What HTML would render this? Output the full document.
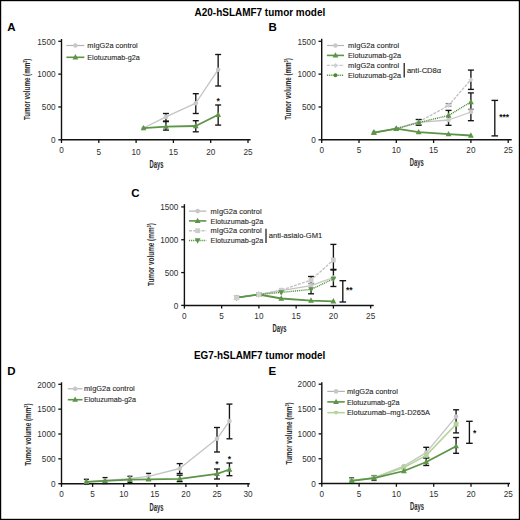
<!DOCTYPE html>
<html><head><meta charset="utf-8"><style>
html,body{margin:0;padding:0;background:#fff;}
svg{display:block;font-family:"Liberation Sans", sans-serif;}
</style></head><body>
<svg width="520" height="520" viewBox="0 0 520 520">
<rect x="0" y="0" width="520" height="520" fill="#fff"/>
<rect x="0.6" y="0.6" width="518.8" height="518.8" fill="none" stroke="#000" stroke-width="1.2"/>
<text x="259.9" y="15.6" font-size="10" text-anchor="middle" font-weight="bold" fill="#000" textLength="130.6" lengthAdjust="spacingAndGlyphs" >A20-hSLAMF7 tumor model</text>
<text x="259.6" y="358.9" font-size="10" text-anchor="middle" font-weight="bold" fill="#000" textLength="131.4" lengthAdjust="spacingAndGlyphs" >EG7-hSLAMF7 tumor model</text>
<text x="7.2" y="31.2" font-size="11.5" text-anchor="start" font-weight="bold" fill="#000" >A</text>
<text x="268.5" y="30.8" font-size="11.5" text-anchor="start" font-weight="bold" fill="#000" >B</text>
<text x="131.2" y="196.7" font-size="11.5" text-anchor="start" font-weight="bold" fill="#000" >C</text>
<text x="7.3" y="375.2" font-size="11.5" text-anchor="start" font-weight="bold" fill="#000" >D</text>
<text x="268.4" y="375.0" font-size="11.5" text-anchor="start" font-weight="bold" fill="#000" >E</text>
<line x1="61.5" y1="39.0" x2="61.5" y2="140.4" stroke="#111" stroke-width="1.4" />
<line x1="60.8" y1="139.8" x2="250.6" y2="139.8" stroke="#111" stroke-width="1.5" />
<line x1="58.3" y1="139.8" x2="61.5" y2="139.8" stroke="#111" stroke-width="1.3" />
<text x="55.5" y="143.0" font-size="8.2" text-anchor="end" font-weight="normal" fill="#303030" >0</text>
<line x1="58.3" y1="106.97" x2="61.5" y2="106.97" stroke="#111" stroke-width="1.3" />
<text x="55.5" y="110.17" font-size="8.2" text-anchor="end" font-weight="normal" fill="#303030" >500</text>
<line x1="58.3" y1="74.14" x2="61.5" y2="74.14" stroke="#111" stroke-width="1.3" />
<text x="55.5" y="77.34" font-size="8.2" text-anchor="end" font-weight="normal" fill="#303030" >1000</text>
<line x1="58.3" y1="41.31" x2="61.5" y2="41.31" stroke="#111" stroke-width="1.3" />
<text x="55.5" y="44.510000000000005" font-size="8.2" text-anchor="end" font-weight="normal" fill="#303030" >1500</text>
<line x1="61.5" y1="139.8" x2="61.5" y2="143.0" stroke="#111" stroke-width="1.3" />
<text x="61.5" y="153.0" font-size="8.2" text-anchor="middle" font-weight="normal" fill="#303030" >0</text>
<line x1="98.8" y1="139.8" x2="98.8" y2="143.0" stroke="#111" stroke-width="1.3" />
<text x="98.8" y="154.8" font-size="8.2" text-anchor="middle" font-weight="normal" fill="#303030" >5</text>
<line x1="136.1" y1="139.8" x2="136.1" y2="143.0" stroke="#111" stroke-width="1.3" />
<text x="136.1" y="154.8" font-size="8.2" text-anchor="middle" font-weight="normal" fill="#303030" >10</text>
<line x1="173.4" y1="139.8" x2="173.4" y2="143.0" stroke="#111" stroke-width="1.3" />
<text x="173.4" y="154.8" font-size="8.2" text-anchor="middle" font-weight="normal" fill="#303030" >15</text>
<line x1="210.7" y1="139.8" x2="210.7" y2="143.0" stroke="#111" stroke-width="1.3" />
<text x="210.7" y="154.8" font-size="8.2" text-anchor="middle" font-weight="normal" fill="#303030" >20</text>
<line x1="248.0" y1="139.8" x2="248.0" y2="143.0" stroke="#111" stroke-width="1.3" />
<text x="248.0" y="154.8" font-size="8.2" text-anchor="middle" font-weight="normal" fill="#303030" >25</text>
<text transform="translate(30.2,89.3) rotate(-90)" x="0" y="0" font-size="9" font-weight="bold" text-anchor="middle" fill="#2a2a2a" textLength="61.5" lengthAdjust="spacingAndGlyphs">Tumor volume (mm<tspan font-size="5.5" dy="-3">3</tspan><tspan dy="3">)</tspan></text>
<text x="156.5" y="167.8" font-size="10" text-anchor="middle" font-weight="bold" fill="#2a2a2a" textLength="14" lengthAdjust="spacingAndGlyphs" >Days</text>
<line x1="165.94" y1="113.5" x2="165.94" y2="121.1" stroke="#151515" stroke-width="1.35" />
<line x1="162.94" y1="113.5" x2="168.94" y2="113.5" stroke="#151515" stroke-width="1.35" />
<line x1="162.94" y1="121.1" x2="168.94" y2="121.1" stroke="#151515" stroke-width="1.35" />
<line x1="195.78" y1="93.7" x2="195.78" y2="113.5" stroke="#151515" stroke-width="1.35" />
<line x1="192.78" y1="93.7" x2="198.78" y2="93.7" stroke="#151515" stroke-width="1.35" />
<line x1="192.78" y1="113.5" x2="198.78" y2="113.5" stroke="#151515" stroke-width="1.35" />
<line x1="218.16" y1="54.5" x2="218.16" y2="86" stroke="#151515" stroke-width="1.35" />
<line x1="215.16" y1="54.5" x2="221.16" y2="54.5" stroke="#151515" stroke-width="1.35" />
<line x1="215.16" y1="86" x2="221.16" y2="86" stroke="#151515" stroke-width="1.35" />
<line x1="165.94" y1="121.6" x2="165.94" y2="130.1" stroke="#151515" stroke-width="1.35" />
<line x1="162.94" y1="121.6" x2="168.94" y2="121.6" stroke="#151515" stroke-width="1.35" />
<line x1="162.94" y1="130.1" x2="168.94" y2="130.1" stroke="#151515" stroke-width="1.35" />
<line x1="195.78" y1="120.7" x2="195.78" y2="131.8" stroke="#151515" stroke-width="1.35" />
<line x1="192.78" y1="120.7" x2="198.78" y2="120.7" stroke="#151515" stroke-width="1.35" />
<line x1="192.78" y1="131.8" x2="198.78" y2="131.8" stroke="#151515" stroke-width="1.35" />
<line x1="218.16" y1="105" x2="218.16" y2="125.1" stroke="#151515" stroke-width="1.35" />
<line x1="215.16" y1="105" x2="221.16" y2="105" stroke="#151515" stroke-width="1.35" />
<line x1="215.16" y1="125.1" x2="221.16" y2="125.1" stroke="#151515" stroke-width="1.35" />
<polyline points="143.56,128.0 165.94,116.9 195.78,103.2 218.16,69.7" fill="none" stroke="#c4c4c4" stroke-width="1.3" stroke-linejoin="round"/>
<circle cx="143.56" cy="128.0" r="2.3" fill="#c8c8c8"/>
<circle cx="165.94" cy="116.9" r="2.3" fill="#c8c8c8"/>
<circle cx="195.78" cy="103.2" r="2.3" fill="#c8c8c8"/>
<circle cx="218.16" cy="69.7" r="2.3" fill="#c8c8c8"/>
<polyline points="143.56,128.2 165.94,126.7 195.78,126.0 218.16,114.8" fill="none" stroke="#5c9448" stroke-width="1.8" stroke-linejoin="round"/>
<polygon points="143.56,124.96 146.46,130.35999999999999 140.66,130.35999999999999" fill="#5c9448"/>
<polygon points="165.94,123.46000000000001 168.84,128.86 163.04,128.86" fill="#5c9448"/>
<polygon points="195.78,122.76 198.68,128.16 192.88,128.16" fill="#5c9448"/>
<polygon points="218.16,111.56 221.06,116.96 215.26,116.96" fill="#5c9448"/>
<text x="216.50674999999998" y="104.31" font-size="8.5" font-weight="bold" fill="#111">*</text>
<line x1="66.4" y1="45.5" x2="84.4" y2="45.5" stroke="#b4b4b4" stroke-width="1.2"/>
<circle cx="75.4" cy="45.5" r="2.3" fill="#c8c8c8"/>
<text x="87.3" y="48.1" font-size="7.4" text-anchor="start" font-weight="normal" fill="#2a2a2a" stroke="#2a2a2a" stroke-width="0.12" textLength="50.4" lengthAdjust="spacingAndGlyphs" >mIgG2a control</text>
<line x1="66.4" y1="57.3" x2="84.4" y2="57.3" stroke="#5c9448" stroke-width="1.6"/>
<polygon points="75.4,54.059999999999995 78.30000000000001,59.459999999999994 72.5,59.459999999999994" fill="#5c9448"/>
<text x="87.3" y="59.9" font-size="7.4" text-anchor="start" font-weight="normal" fill="#2a2a2a" stroke="#2a2a2a" stroke-width="0.12" textLength="52.4" lengthAdjust="spacingAndGlyphs" >Elotuzumab-g2a</text>
<line x1="321.7" y1="38.7" x2="321.7" y2="140.4" stroke="#111" stroke-width="1.4" />
<line x1="321.0" y1="139.8" x2="511.7" y2="139.8" stroke="#111" stroke-width="1.5" />
<line x1="318.5" y1="139.8" x2="321.7" y2="139.8" stroke="#111" stroke-width="1.3" />
<text x="315.7" y="143.0" font-size="8.2" text-anchor="end" font-weight="normal" fill="#303030" >0</text>
<line x1="318.5" y1="106.97" x2="321.7" y2="106.97" stroke="#111" stroke-width="1.3" />
<text x="315.7" y="110.17" font-size="8.2" text-anchor="end" font-weight="normal" fill="#303030" >500</text>
<line x1="318.5" y1="74.14" x2="321.7" y2="74.14" stroke="#111" stroke-width="1.3" />
<text x="315.7" y="77.34" font-size="8.2" text-anchor="end" font-weight="normal" fill="#303030" >1000</text>
<line x1="318.5" y1="41.31" x2="321.7" y2="41.31" stroke="#111" stroke-width="1.3" />
<text x="315.7" y="44.510000000000005" font-size="8.2" text-anchor="end" font-weight="normal" fill="#303030" >1500</text>
<line x1="321.7" y1="139.8" x2="321.7" y2="143.0" stroke="#111" stroke-width="1.3" />
<text x="321.7" y="152.9" font-size="8.2" text-anchor="middle" font-weight="normal" fill="#303030" >0</text>
<line x1="359.0" y1="139.8" x2="359.0" y2="143.0" stroke="#111" stroke-width="1.3" />
<text x="359.0" y="152.9" font-size="8.2" text-anchor="middle" font-weight="normal" fill="#303030" >5</text>
<line x1="396.3" y1="139.8" x2="396.3" y2="143.0" stroke="#111" stroke-width="1.3" />
<text x="396.3" y="152.9" font-size="8.2" text-anchor="middle" font-weight="normal" fill="#303030" >10</text>
<line x1="433.6" y1="139.8" x2="433.6" y2="143.0" stroke="#111" stroke-width="1.3" />
<text x="433.6" y="152.9" font-size="8.2" text-anchor="middle" font-weight="normal" fill="#303030" >15</text>
<line x1="470.9" y1="139.8" x2="470.9" y2="143.0" stroke="#111" stroke-width="1.3" />
<text x="470.9" y="152.9" font-size="8.2" text-anchor="middle" font-weight="normal" fill="#303030" >20</text>
<line x1="508.2" y1="139.8" x2="508.2" y2="143.0" stroke="#111" stroke-width="1.3" />
<text x="508.2" y="152.9" font-size="8.2" text-anchor="middle" font-weight="normal" fill="#303030" >25</text>
<text transform="translate(290.8,89.0) rotate(-90)" x="0" y="0" font-size="9" font-weight="bold" text-anchor="middle" fill="#2a2a2a" textLength="61.5" lengthAdjust="spacingAndGlyphs">Tumor volume (mm<tspan font-size="5.5" dy="-3">3</tspan><tspan dy="3">)</tspan></text>
<text x="416.7" y="166.4" font-size="10" text-anchor="middle" font-weight="bold" fill="#2a2a2a" textLength="14" lengthAdjust="spacingAndGlyphs" >Days</text>
<line x1="418.68" y1="119.5" x2="418.68" y2="125.2" stroke="#151515" stroke-width="1.35" />
<line x1="415.68" y1="119.5" x2="421.68" y2="119.5" stroke="#151515" stroke-width="1.35" />
<line x1="415.68" y1="125.2" x2="421.68" y2="125.2" stroke="#151515" stroke-width="1.35" />
<line x1="448.52" y1="103.6" x2="448.52" y2="106.2" stroke="#8a8a8a" stroke-width="1.35" />
<line x1="445.52" y1="103.6" x2="451.52" y2="103.6" stroke="#8a8a8a" stroke-width="1.35" />
<line x1="445.52" y1="106.2" x2="451.52" y2="106.2" stroke="#8a8a8a" stroke-width="1.35" />
<line x1="448.52" y1="110.4" x2="448.52" y2="125.3" stroke="#151515" stroke-width="1.35" />
<line x1="445.52" y1="110.4" x2="451.52" y2="110.4" stroke="#151515" stroke-width="1.35" />
<line x1="445.52" y1="125.3" x2="451.52" y2="125.3" stroke="#151515" stroke-width="1.35" />
<line x1="470.9" y1="70.1" x2="470.9" y2="89.4" stroke="#151515" stroke-width="1.35" />
<line x1="467.9" y1="70.1" x2="473.9" y2="70.1" stroke="#151515" stroke-width="1.35" />
<line x1="467.9" y1="89.4" x2="473.9" y2="89.4" stroke="#151515" stroke-width="1.35" />
<line x1="470.9" y1="92.9" x2="470.9" y2="120.7" stroke="#151515" stroke-width="1.35" />
<line x1="467.9" y1="92.9" x2="473.9" y2="92.9" stroke="#151515" stroke-width="1.35" />
<line x1="467.9" y1="120.7" x2="473.9" y2="120.7" stroke="#151515" stroke-width="1.35" />
<line x1="470.9" y1="109.4" x2="470.9" y2="109.4" stroke="#9a9a9a" stroke-width="1.35" />
<line x1="467.9" y1="109.4" x2="473.9" y2="109.4" stroke="#9a9a9a" stroke-width="1.35" />
<line x1="467.9" y1="109.4" x2="473.9" y2="109.4" stroke="#9a9a9a" stroke-width="1.35" />
<polyline points="373.92,132.6 396.3,128.7 418.68,122.4 448.52,120.0 470.9,112.0" fill="none" stroke="#c4c4c4" stroke-width="1.3" stroke-linejoin="round"/>
<circle cx="373.92" cy="132.6" r="2.3" fill="#c8c8c8"/>
<circle cx="396.3" cy="128.7" r="2.3" fill="#c8c8c8"/>
<circle cx="418.68" cy="122.4" r="2.3" fill="#c8c8c8"/>
<circle cx="448.52" cy="120.0" r="2.3" fill="#c8c8c8"/>
<circle cx="470.9" cy="112.0" r="2.3" fill="#c8c8c8"/>
<polyline points="373.92,132.6 396.3,128.7 418.68,122.0 448.52,105.5 470.9,79.7" fill="none" stroke="#c4c4c4" stroke-width="1.4" stroke-linejoin="round" stroke-dasharray="3,1.2"/>
<polygon points="373.92,130.1 376.42,132.6 373.92,135.1 371.42,132.6" fill="#d0d0d8"/>
<polygon points="396.3,126.19999999999999 398.8,128.7 396.3,131.2 393.8,128.7" fill="#d0d0d8"/>
<polygon points="418.68,119.5 421.18,122.0 418.68,124.5 416.18,122.0" fill="#d0d0d8"/>
<polygon points="448.52,103.0 451.02,105.5 448.52,108.0 446.02,105.5" fill="#d0d0d8"/>
<polygon points="470.9,77.2 473.4,79.7 470.9,82.2 468.4,79.7" fill="#d0d0d8"/>
<polyline points="373.92,132.6 396.3,128.7 418.68,122.6 448.52,115.5 470.9,102.0" fill="none" stroke="#4a8a32" stroke-width="1.4" stroke-linejoin="round" stroke-dasharray="1,0.9"/>
<polygon points="373.92,129.35999999999999 376.82,134.76 371.02000000000004,134.76" fill="#5c9448"/>
<polygon points="396.3,125.46 399.2,130.85999999999999 393.40000000000003,130.85999999999999" fill="#5c9448"/>
<polygon points="418.68,119.36 421.58,124.75999999999999 415.78000000000003,124.75999999999999" fill="#5c9448"/>
<polygon points="448.52,112.26 451.41999999999996,117.66 445.62,117.66" fill="#5c9448"/>
<polygon points="470.9,98.76 473.79999999999995,104.16 468.0,104.16" fill="#5c9448"/>
<polyline points="373.92,132.6 396.3,128.7 418.68,132.2 448.52,134.2 470.9,135.5" fill="none" stroke="#5c9448" stroke-width="1.8" stroke-linejoin="round"/>
<polygon points="373.92,129.35999999999999 376.82,134.76 371.02000000000004,134.76" fill="#5c9448"/>
<polygon points="396.3,125.46 399.2,130.85999999999999 393.40000000000003,130.85999999999999" fill="#5c9448"/>
<polygon points="418.68,128.95999999999998 421.58,134.35999999999999 415.78000000000003,134.35999999999999" fill="#5c9448"/>
<polygon points="448.52,130.95999999999998 451.41999999999996,136.35999999999999 445.62,136.35999999999999" fill="#5c9448"/>
<polygon points="470.9,132.26 473.79999999999995,137.66 468.0,137.66" fill="#5c9448"/>
<line x1="494.8" y1="100.4" x2="494.8" y2="135.9" stroke="#151515" stroke-width="1.35" />
<line x1="491.5" y1="100.4" x2="498.1" y2="100.4" stroke="#151515" stroke-width="1.35" />
<line x1="491.5" y1="135.9" x2="498.1" y2="135.9" stroke="#151515" stroke-width="1.35" />
<text x="499.14675" y="119.50999999999999" font-size="8.5" font-weight="bold" fill="#111">***</text>
<line x1="326.9" y1="45.5" x2="344.0" y2="45.5" stroke="#b4b4b4" stroke-width="1.2"/>
<circle cx="335.45" cy="45.5" r="2.3" fill="#c8c8c8"/>
<text x="348.0" y="48.1" font-size="7.4" text-anchor="start" font-weight="normal" fill="#2a2a2a" stroke="#2a2a2a" stroke-width="0.12" textLength="51.2" lengthAdjust="spacingAndGlyphs" >mIgG2a control</text>
<line x1="326.9" y1="55.4" x2="344.0" y2="55.4" stroke="#5c9448" stroke-width="1.6"/>
<polygon points="335.45,52.16 338.34999999999997,57.56 332.55,57.56" fill="#5c9448"/>
<text x="348.0" y="58.0" font-size="7.4" text-anchor="start" font-weight="normal" fill="#2a2a2a" stroke="#2a2a2a" stroke-width="0.12" textLength="53.0" lengthAdjust="spacingAndGlyphs" >Elotuzumab-g2a</text>
<line x1="326.9" y1="65.4" x2="344.0" y2="65.4" stroke="#c4c4c4" stroke-width="1.4" stroke-dasharray="3,1.2"/>
<polygon points="335.45,62.900000000000006 337.95,65.4 335.45,67.9 332.95,65.4" fill="#d0d0d8"/>
<text x="348.0" y="68.0" font-size="7.4" text-anchor="start" font-weight="normal" fill="#2a2a2a" stroke="#2a2a2a" stroke-width="0.12" textLength="51.2" lengthAdjust="spacingAndGlyphs" >mIgG2a control</text>
<line x1="326.9" y1="75.2" x2="344.0" y2="75.2" stroke="#4a8a32" stroke-width="1.4" stroke-dasharray="1,0.9"/>
<circle cx="335.45" cy="75.2" r="1.9549999999999998" fill="#4a8a32"/>
<text x="348.0" y="77.8" font-size="7.4" text-anchor="start" font-weight="normal" fill="#2a2a2a" stroke="#2a2a2a" stroke-width="0.12" textLength="53.0" lengthAdjust="spacingAndGlyphs" >Elotuzumab-g2a</text>
<line x1="404.2" y1="63.1" x2="404.2" y2="77.4" stroke="#111" stroke-width="1.2" />
<text x="406.9" y="72.6" font-size="7.4" text-anchor="start" font-weight="normal" fill="#2a2a2a" stroke="#2a2a2a" stroke-width="0.12" textLength="34.3" lengthAdjust="spacingAndGlyphs" >anti-CD8α</text>
<line x1="184.4" y1="204.2" x2="184.4" y2="306.0" stroke="#111" stroke-width="1.4" />
<line x1="183.70000000000002" y1="305.4" x2="373.7" y2="305.4" stroke="#111" stroke-width="1.5" />
<line x1="181.20000000000002" y1="305.4" x2="184.4" y2="305.4" stroke="#111" stroke-width="1.3" />
<text x="178.4" y="308.59999999999997" font-size="8.2" text-anchor="end" font-weight="normal" fill="#303030" >0</text>
<line x1="181.20000000000002" y1="272.57" x2="184.4" y2="272.57" stroke="#111" stroke-width="1.3" />
<text x="178.4" y="275.77" font-size="8.2" text-anchor="end" font-weight="normal" fill="#303030" >500</text>
<line x1="181.20000000000002" y1="239.74" x2="184.4" y2="239.74" stroke="#111" stroke-width="1.3" />
<text x="178.4" y="242.94" font-size="8.2" text-anchor="end" font-weight="normal" fill="#303030" >1000</text>
<line x1="181.20000000000002" y1="206.91" x2="184.4" y2="206.91" stroke="#111" stroke-width="1.3" />
<text x="178.4" y="210.10999999999999" font-size="8.2" text-anchor="end" font-weight="normal" fill="#303030" >1500</text>
<line x1="184.4" y1="305.4" x2="184.4" y2="308.59999999999997" stroke="#111" stroke-width="1.3" />
<text x="184.4" y="318.7" font-size="8.2" text-anchor="middle" font-weight="normal" fill="#303030" >0</text>
<line x1="221.65" y1="305.4" x2="221.65" y2="308.59999999999997" stroke="#111" stroke-width="1.3" />
<text x="221.65" y="318.7" font-size="8.2" text-anchor="middle" font-weight="normal" fill="#303030" >5</text>
<line x1="258.9" y1="305.4" x2="258.9" y2="308.59999999999997" stroke="#111" stroke-width="1.3" />
<text x="258.9" y="318.7" font-size="8.2" text-anchor="middle" font-weight="normal" fill="#303030" >10</text>
<line x1="296.15" y1="305.4" x2="296.15" y2="308.59999999999997" stroke="#111" stroke-width="1.3" />
<text x="296.15" y="318.7" font-size="8.2" text-anchor="middle" font-weight="normal" fill="#303030" >15</text>
<line x1="333.4" y1="305.4" x2="333.4" y2="308.59999999999997" stroke="#111" stroke-width="1.3" />
<text x="333.4" y="318.7" font-size="8.2" text-anchor="middle" font-weight="normal" fill="#303030" >20</text>
<line x1="370.65" y1="305.4" x2="370.65" y2="308.59999999999997" stroke="#111" stroke-width="1.3" />
<text x="370.65" y="318.7" font-size="8.2" text-anchor="middle" font-weight="normal" fill="#303030" >25</text>
<text transform="translate(153.8,254.6) rotate(-90)" x="0" y="0" font-size="9" font-weight="bold" text-anchor="middle" fill="#2a2a2a" textLength="62.9" lengthAdjust="spacingAndGlyphs">Tumor volume (mm<tspan font-size="5.5" dy="-3">3</tspan><tspan dy="3">)</tspan></text>
<text x="279.5" y="332.2" font-size="10" text-anchor="middle" font-weight="bold" fill="#2a2a2a" textLength="14" lengthAdjust="spacingAndGlyphs" >Days</text>
<line x1="311.05" y1="276.5" x2="311.05" y2="293.8" stroke="#151515" stroke-width="1.35" />
<line x1="308.05" y1="276.5" x2="314.05" y2="276.5" stroke="#151515" stroke-width="1.35" />
<line x1="308.05" y1="293.8" x2="314.05" y2="293.8" stroke="#151515" stroke-width="1.35" />
<line x1="311.05" y1="283.5" x2="311.05" y2="283.5" stroke="#9a9a9a" stroke-width="1.35" />
<line x1="308.05" y1="283.5" x2="314.05" y2="283.5" stroke="#9a9a9a" stroke-width="1.35" />
<line x1="308.05" y1="283.5" x2="314.05" y2="283.5" stroke="#9a9a9a" stroke-width="1.35" />
<line x1="333.4" y1="244.4" x2="333.4" y2="269.4" stroke="#151515" stroke-width="1.35" />
<line x1="330.4" y1="244.4" x2="336.4" y2="244.4" stroke="#151515" stroke-width="1.35" />
<line x1="330.4" y1="269.4" x2="336.4" y2="269.4" stroke="#151515" stroke-width="1.35" />
<line x1="333.4" y1="270.0" x2="333.4" y2="286.5" stroke="#151515" stroke-width="1.35" />
<line x1="330.4" y1="270.0" x2="336.4" y2="270.0" stroke="#151515" stroke-width="1.35" />
<line x1="330.4" y1="286.5" x2="336.4" y2="286.5" stroke="#151515" stroke-width="1.35" />
<polyline points="236.55,297.7 258.9,294.5 281.25,290.6 311.05,285.6 333.4,277.5" fill="none" stroke="#c4c4c4" stroke-width="1.3" stroke-linejoin="round"/>
<circle cx="236.55" cy="297.7" r="2.3" fill="#c8c8c8"/>
<circle cx="258.9" cy="294.5" r="2.3" fill="#c8c8c8"/>
<circle cx="281.25" cy="290.6" r="2.3" fill="#c8c8c8"/>
<circle cx="311.05" cy="285.6" r="2.3" fill="#c8c8c8"/>
<circle cx="333.4" cy="277.5" r="2.3" fill="#c8c8c8"/>
<polyline points="236.55,297.7 258.9,294.5 281.25,290.2 311.05,280.0 333.4,260.0" fill="none" stroke="#c4c4c4" stroke-width="1.4" stroke-linejoin="round" stroke-dasharray="3,1.2"/>
<rect x="234.15" y="295.3" width="4.8" height="4.8" fill="#cccccc"/>
<rect x="256.5" y="292.1" width="4.8" height="4.8" fill="#cccccc"/>
<rect x="278.85" y="287.8" width="4.8" height="4.8" fill="#cccccc"/>
<rect x="308.65000000000003" y="277.6" width="4.8" height="4.8" fill="#cccccc"/>
<rect x="331.0" y="257.6" width="4.8" height="4.8" fill="#cccccc"/>
<polyline points="236.55,297.7 258.9,294.5 281.25,292.4 311.05,289.4 333.4,278.8" fill="none" stroke="#4a8a32" stroke-width="1.4" stroke-linejoin="round" stroke-dasharray="1,0.9"/>
<polygon points="236.55,300.94 239.45000000000002,295.53999999999996 233.65,295.53999999999996" fill="#5c9448"/>
<polygon points="258.9,297.74 261.79999999999995,292.34 255.99999999999997,292.34" fill="#5c9448"/>
<polygon points="281.25,295.64 284.15,290.23999999999995 278.35,290.23999999999995" fill="#5c9448"/>
<polygon points="311.05,292.64 313.95,287.23999999999995 308.15000000000003,287.23999999999995" fill="#5c9448"/>
<polygon points="333.4,282.04 336.29999999999995,276.64 330.5,276.64" fill="#5c9448"/>
<polyline points="236.55,297.7 258.9,294.5 281.25,298.5 311.05,300.6 333.4,301.3" fill="none" stroke="#5c9448" stroke-width="1.8" stroke-linejoin="round"/>
<polygon points="236.55,294.46 239.45000000000002,299.86 233.65,299.86" fill="#5c9448"/>
<polygon points="258.9,291.26 261.79999999999995,296.66 255.99999999999997,296.66" fill="#5c9448"/>
<polygon points="281.25,295.26 284.15,300.66 278.35,300.66" fill="#5c9448"/>
<polygon points="311.05,297.36 313.95,302.76000000000005 308.15000000000003,302.76000000000005" fill="#5c9448"/>
<polygon points="333.4,298.06 336.29999999999995,303.46000000000004 330.5,303.46000000000004" fill="#5c9448"/>
<line x1="342.8" y1="280.7" x2="342.8" y2="302.0" stroke="#151515" stroke-width="1.35" />
<line x1="339.5" y1="280.7" x2="346.1" y2="280.7" stroke="#151515" stroke-width="1.35" />
<line x1="339.5" y1="302.0" x2="346.1" y2="302.0" stroke="#151515" stroke-width="1.35" />
<rect x="234.03" y="295.18" width="5.04" height="5.04" fill="#cfcfcf"/>
<rect x="256.38" y="291.98" width="5.04" height="5.04" fill="#cfcfcf"/>
<text x="345.94675" y="293.11" font-size="8.5" font-weight="bold" fill="#111">**</text>
<line x1="189.0" y1="211.1" x2="206.3" y2="211.1" stroke="#b4b4b4" stroke-width="1.2"/>
<circle cx="197.65" cy="211.1" r="2.3" fill="#c8c8c8"/>
<text x="210.6" y="213.7" font-size="7.4" text-anchor="start" font-weight="normal" fill="#2a2a2a" stroke="#2a2a2a" stroke-width="0.12" textLength="51.0" lengthAdjust="spacingAndGlyphs" >mIgG2a control</text>
<line x1="189.0" y1="220.9" x2="206.3" y2="220.9" stroke="#5c9448" stroke-width="1.6"/>
<polygon points="197.65,217.66 200.55,223.06 194.75,223.06" fill="#5c9448"/>
<text x="210.6" y="223.5" font-size="7.4" text-anchor="start" font-weight="normal" fill="#2a2a2a" stroke="#2a2a2a" stroke-width="0.12" textLength="52.6" lengthAdjust="spacingAndGlyphs" >Elotuzumab-g2a</text>
<line x1="189.0" y1="230.7" x2="206.3" y2="230.7" stroke="#c4c4c4" stroke-width="1.4" stroke-dasharray="3,1.2"/>
<rect x="195.25" y="228.29999999999998" width="4.8" height="4.8" fill="#cccccc"/>
<text x="210.6" y="233.29999999999998" font-size="7.4" text-anchor="start" font-weight="normal" fill="#2a2a2a" stroke="#2a2a2a" stroke-width="0.12" textLength="51.0" lengthAdjust="spacingAndGlyphs" >mIgG2a control</text>
<line x1="189.0" y1="240.5" x2="206.3" y2="240.5" stroke="#4a8a32" stroke-width="1.4" stroke-dasharray="1,0.9"/>
<polygon points="197.65,243.74 200.55,238.34 194.75,238.34" fill="#5c9448"/>
<text x="210.6" y="243.1" font-size="7.4" text-anchor="start" font-weight="normal" fill="#2a2a2a" stroke="#2a2a2a" stroke-width="0.12" textLength="52.6" lengthAdjust="spacingAndGlyphs" >Elotuzumab-g2a</text>
<line x1="266.0" y1="228.7" x2="266.0" y2="243.0" stroke="#111" stroke-width="1.2" />
<text x="268.8" y="238.4" font-size="7.4" text-anchor="start" font-weight="normal" fill="#2a2a2a" stroke="#2a2a2a" stroke-width="0.12" textLength="53.5" lengthAdjust="spacingAndGlyphs" >anti-asialo-GM1</text>
<line x1="61.5" y1="382.3" x2="61.5" y2="484.3" stroke="#111" stroke-width="1.4" />
<line x1="60.8" y1="483.7" x2="249.8" y2="483.7" stroke="#111" stroke-width="1.5" />
<line x1="58.3" y1="483.7" x2="61.5" y2="483.7" stroke="#111" stroke-width="1.3" />
<text x="55.5" y="486.9" font-size="8.2" text-anchor="end" font-weight="normal" fill="#303030" >0</text>
<line x1="58.3" y1="458.85" x2="61.5" y2="458.85" stroke="#111" stroke-width="1.3" />
<text x="55.5" y="462.05" font-size="8.2" text-anchor="end" font-weight="normal" fill="#303030" >500</text>
<line x1="58.3" y1="434.0" x2="61.5" y2="434.0" stroke="#111" stroke-width="1.3" />
<text x="55.5" y="437.2" font-size="8.2" text-anchor="end" font-weight="normal" fill="#303030" >1000</text>
<line x1="58.3" y1="409.15" x2="61.5" y2="409.15" stroke="#111" stroke-width="1.3" />
<text x="55.5" y="412.34999999999997" font-size="8.2" text-anchor="end" font-weight="normal" fill="#303030" >1500</text>
<line x1="58.3" y1="384.3" x2="61.5" y2="384.3" stroke="#111" stroke-width="1.3" />
<text x="55.5" y="387.5" font-size="8.2" text-anchor="end" font-weight="normal" fill="#303030" >2000</text>
<line x1="61.5" y1="483.7" x2="61.5" y2="486.9" stroke="#111" stroke-width="1.3" />
<text x="61.5" y="497.0" font-size="8.2" text-anchor="middle" font-weight="normal" fill="#303030" >0</text>
<line x1="92.6" y1="483.7" x2="92.6" y2="486.9" stroke="#111" stroke-width="1.3" />
<text x="92.6" y="497.0" font-size="8.2" text-anchor="middle" font-weight="normal" fill="#303030" >5</text>
<line x1="123.7" y1="483.7" x2="123.7" y2="486.9" stroke="#111" stroke-width="1.3" />
<text x="123.7" y="497.0" font-size="8.2" text-anchor="middle" font-weight="normal" fill="#303030" >10</text>
<line x1="154.8" y1="483.7" x2="154.8" y2="486.9" stroke="#111" stroke-width="1.3" />
<text x="154.8" y="497.0" font-size="8.2" text-anchor="middle" font-weight="normal" fill="#303030" >15</text>
<line x1="185.9" y1="483.7" x2="185.9" y2="486.9" stroke="#111" stroke-width="1.3" />
<text x="185.9" y="497.0" font-size="8.2" text-anchor="middle" font-weight="normal" fill="#303030" >20</text>
<line x1="217.0" y1="483.7" x2="217.0" y2="486.9" stroke="#111" stroke-width="1.3" />
<text x="217.0" y="497.0" font-size="8.2" text-anchor="middle" font-weight="normal" fill="#303030" >25</text>
<line x1="248.1" y1="483.7" x2="248.1" y2="486.9" stroke="#111" stroke-width="1.3" />
<text x="248.1" y="497.0" font-size="8.2" text-anchor="middle" font-weight="normal" fill="#303030" >30</text>
<text transform="translate(31.4,434.6) rotate(-90)" x="0" y="0" font-size="9" font-weight="bold" text-anchor="middle" fill="#2a2a2a" textLength="62.3" lengthAdjust="spacingAndGlyphs">Tumor volume (mm<tspan font-size="5.5" dy="-3">3</tspan><tspan dy="3">)</tspan></text>
<text x="156.5" y="510.9" font-size="10" text-anchor="middle" font-weight="bold" fill="#2a2a2a" textLength="14" lengthAdjust="spacingAndGlyphs" >Days</text>
<line x1="86.38" y1="479.3" x2="86.38" y2="484.0" stroke="#151515" stroke-width="1.35" />
<line x1="83.88" y1="479.3" x2="88.88" y2="479.3" stroke="#151515" stroke-width="1.35" />
<line x1="83.88" y1="484.0" x2="88.88" y2="484.0" stroke="#151515" stroke-width="1.35" />
<line x1="105.04" y1="477.6" x2="105.04" y2="483.5" stroke="#151515" stroke-width="1.35" />
<line x1="102.54" y1="477.6" x2="107.54" y2="477.6" stroke="#151515" stroke-width="1.35" />
<line x1="102.54" y1="483.5" x2="107.54" y2="483.5" stroke="#151515" stroke-width="1.35" />
<line x1="129.92" y1="476.3" x2="129.92" y2="482.5" stroke="#151515" stroke-width="1.35" />
<line x1="127.41999999999999" y1="476.3" x2="132.42" y2="476.3" stroke="#151515" stroke-width="1.35" />
<line x1="127.41999999999999" y1="482.5" x2="132.42" y2="482.5" stroke="#151515" stroke-width="1.35" />
<line x1="148.58" y1="473.4" x2="148.58" y2="480" stroke="#151515" stroke-width="1.35" />
<line x1="146.08" y1="473.4" x2="151.08" y2="473.4" stroke="#151515" stroke-width="1.35" />
<line x1="146.08" y1="480" x2="151.08" y2="480" stroke="#151515" stroke-width="1.35" />
<line x1="179.68" y1="463.6" x2="179.68" y2="473.5" stroke="#151515" stroke-width="1.35" />
<line x1="176.68" y1="463.6" x2="182.68" y2="463.6" stroke="#151515" stroke-width="1.35" />
<line x1="176.68" y1="473.5" x2="182.68" y2="473.5" stroke="#151515" stroke-width="1.35" />
<line x1="179.68" y1="475.2" x2="179.68" y2="481.6" stroke="#151515" stroke-width="1.35" />
<line x1="176.68" y1="475.2" x2="182.68" y2="475.2" stroke="#151515" stroke-width="1.35" />
<line x1="176.68" y1="481.6" x2="182.68" y2="481.6" stroke="#151515" stroke-width="1.35" />
<line x1="217.0" y1="427.5" x2="217.0" y2="452.0" stroke="#151515" stroke-width="1.35" />
<line x1="214.0" y1="427.5" x2="220.0" y2="427.5" stroke="#151515" stroke-width="1.35" />
<line x1="214.0" y1="452.0" x2="220.0" y2="452.0" stroke="#151515" stroke-width="1.35" />
<line x1="217.0" y1="469.0" x2="217.0" y2="479.0" stroke="#151515" stroke-width="1.35" />
<line x1="214.0" y1="469.0" x2="220.0" y2="469.0" stroke="#151515" stroke-width="1.35" />
<line x1="214.0" y1="479.0" x2="220.0" y2="479.0" stroke="#151515" stroke-width="1.35" />
<line x1="229.44" y1="404.1" x2="229.44" y2="438.8" stroke="#151515" stroke-width="1.35" />
<line x1="226.44" y1="404.1" x2="232.44" y2="404.1" stroke="#151515" stroke-width="1.35" />
<line x1="226.44" y1="438.8" x2="232.44" y2="438.8" stroke="#151515" stroke-width="1.35" />
<line x1="229.44" y1="463.0" x2="229.44" y2="475.7" stroke="#151515" stroke-width="1.35" />
<line x1="226.44" y1="463.0" x2="232.44" y2="463.0" stroke="#151515" stroke-width="1.35" />
<line x1="226.44" y1="475.7" x2="232.44" y2="475.7" stroke="#151515" stroke-width="1.35" />
<polyline points="86.38,481.8 105.04,480.3 129.92,478.6 148.58,476.3 179.68,468.5 217.0,438.8 229.44,421.1" fill="none" stroke="#c4c4c4" stroke-width="1.3" stroke-linejoin="round"/>
<circle cx="86.38" cy="481.8" r="2.3" fill="#c8c8c8"/>
<circle cx="105.04" cy="480.3" r="2.3" fill="#c8c8c8"/>
<circle cx="129.92" cy="478.6" r="2.3" fill="#c8c8c8"/>
<circle cx="148.58" cy="476.3" r="2.3" fill="#c8c8c8"/>
<circle cx="179.68" cy="468.5" r="2.3" fill="#c8c8c8"/>
<circle cx="217.0" cy="438.8" r="2.3" fill="#c8c8c8"/>
<circle cx="229.44" cy="421.1" r="2.3" fill="#c8c8c8"/>
<polyline points="86.38,481.8 105.04,480.9 129.92,479.6 148.58,479.4 179.68,478.8 217.0,473.9 229.44,469.5" fill="none" stroke="#5c9448" stroke-width="1.8" stroke-linejoin="round"/>
<polygon points="86.38,478.56 89.28,483.96000000000004 83.47999999999999,483.96000000000004" fill="#5c9448"/>
<polygon points="105.04,477.65999999999997 107.94000000000001,483.06 102.14,483.06" fill="#5c9448"/>
<polygon points="129.92,476.36 132.82,481.76000000000005 127.01999999999998,481.76000000000005" fill="#5c9448"/>
<polygon points="148.58,476.15999999999997 151.48000000000002,481.56 145.68,481.56" fill="#5c9448"/>
<polygon points="179.68,475.56 182.58,480.96000000000004 176.78,480.96000000000004" fill="#5c9448"/>
<polygon points="217.0,470.65999999999997 219.9,476.06 214.1,476.06" fill="#5c9448"/>
<polygon points="229.44,466.26 232.34,471.66 226.54,471.66" fill="#5c9448"/>
<text x="215.34675" y="467.41" font-size="8.5" font-weight="bold" fill="#111">*</text>
<text x="227.78674999999998" y="461.91" font-size="8.5" font-weight="bold" fill="#111">*</text>
<line x1="67.8" y1="388.8" x2="82.5" y2="388.8" stroke="#b4b4b4" stroke-width="1.2"/>
<circle cx="75.15" cy="388.8" r="2.3" fill="#c8c8c8"/>
<text x="83.9" y="391.40000000000003" font-size="7.4" text-anchor="start" font-weight="normal" fill="#2a2a2a" stroke="#2a2a2a" stroke-width="0.12" textLength="50.8" lengthAdjust="spacingAndGlyphs" >mIgG2a control</text>
<line x1="67.8" y1="399.7" x2="82.5" y2="399.7" stroke="#5c9448" stroke-width="1.6"/>
<polygon points="75.15,396.46 78.05000000000001,401.86 72.25,401.86" fill="#5c9448"/>
<text x="83.9" y="402.3" font-size="7.4" text-anchor="start" font-weight="normal" fill="#2a2a2a" stroke="#2a2a2a" stroke-width="0.12" textLength="52.2" lengthAdjust="spacingAndGlyphs" >Elotuzumab-g2a</text>
<line x1="321.8" y1="382.3" x2="321.8" y2="484.20000000000005" stroke="#111" stroke-width="1.4" />
<line x1="321.1" y1="483.6" x2="510.0" y2="483.6" stroke="#111" stroke-width="1.5" />
<line x1="318.6" y1="483.6" x2="321.8" y2="483.6" stroke="#111" stroke-width="1.3" />
<text x="315.8" y="486.8" font-size="8.2" text-anchor="end" font-weight="normal" fill="#303030" >0</text>
<line x1="318.6" y1="458.75" x2="321.8" y2="458.75" stroke="#111" stroke-width="1.3" />
<text x="315.8" y="461.95" font-size="8.2" text-anchor="end" font-weight="normal" fill="#303030" >500</text>
<line x1="318.6" y1="433.9" x2="321.8" y2="433.9" stroke="#111" stroke-width="1.3" />
<text x="315.8" y="437.09999999999997" font-size="8.2" text-anchor="end" font-weight="normal" fill="#303030" >1000</text>
<line x1="318.6" y1="409.05" x2="321.8" y2="409.05" stroke="#111" stroke-width="1.3" />
<text x="315.8" y="412.25" font-size="8.2" text-anchor="end" font-weight="normal" fill="#303030" >1500</text>
<line x1="318.6" y1="384.2" x2="321.8" y2="384.2" stroke="#111" stroke-width="1.3" />
<text x="315.8" y="387.4" font-size="8.2" text-anchor="end" font-weight="normal" fill="#303030" >2000</text>
<line x1="321.8" y1="483.6" x2="321.8" y2="486.8" stroke="#111" stroke-width="1.3" />
<text x="321.8" y="496.8" font-size="8.2" text-anchor="middle" font-weight="normal" fill="#303030" >0</text>
<line x1="359.1" y1="483.6" x2="359.1" y2="486.8" stroke="#111" stroke-width="1.3" />
<text x="359.1" y="496.8" font-size="8.2" text-anchor="middle" font-weight="normal" fill="#303030" >5</text>
<line x1="396.4" y1="483.6" x2="396.4" y2="486.8" stroke="#111" stroke-width="1.3" />
<text x="396.4" y="496.8" font-size="8.2" text-anchor="middle" font-weight="normal" fill="#303030" >10</text>
<line x1="433.7" y1="483.6" x2="433.7" y2="486.8" stroke="#111" stroke-width="1.3" />
<text x="433.7" y="496.8" font-size="8.2" text-anchor="middle" font-weight="normal" fill="#303030" >15</text>
<line x1="471.0" y1="483.6" x2="471.0" y2="486.8" stroke="#111" stroke-width="1.3" />
<text x="471.0" y="496.8" font-size="8.2" text-anchor="middle" font-weight="normal" fill="#303030" >20</text>
<line x1="508.3" y1="483.6" x2="508.3" y2="486.8" stroke="#111" stroke-width="1.3" />
<text x="508.3" y="496.8" font-size="8.2" text-anchor="middle" font-weight="normal" fill="#303030" >25</text>
<text transform="translate(291.6,433.4) rotate(-90)" x="0" y="0" font-size="9" font-weight="bold" text-anchor="middle" fill="#2a2a2a" textLength="62.2" lengthAdjust="spacingAndGlyphs">Tumor volume (mm<tspan font-size="5.5" dy="-3">3</tspan><tspan dy="3">)</tspan></text>
<text x="417.0" y="510.40000000000003" font-size="10" text-anchor="middle" font-weight="bold" fill="#2a2a2a" textLength="14" lengthAdjust="spacingAndGlyphs" >Days</text>
<line x1="351.64" y1="478.0" x2="351.64" y2="483.0" stroke="#151515" stroke-width="1.35" />
<line x1="349.14" y1="478.0" x2="354.14" y2="478.0" stroke="#151515" stroke-width="1.35" />
<line x1="349.14" y1="483.0" x2="354.14" y2="483.0" stroke="#151515" stroke-width="1.35" />
<line x1="374.02" y1="475.6" x2="374.02" y2="480.4" stroke="#151515" stroke-width="1.35" />
<line x1="371.52" y1="475.6" x2="376.52" y2="475.6" stroke="#151515" stroke-width="1.35" />
<line x1="371.52" y1="480.4" x2="376.52" y2="480.4" stroke="#151515" stroke-width="1.35" />
<line x1="426.24" y1="447.3" x2="426.24" y2="457.5" stroke="#151515" stroke-width="1.35" />
<line x1="423.24" y1="447.3" x2="429.24" y2="447.3" stroke="#151515" stroke-width="1.35" />
<line x1="423.24" y1="457.5" x2="429.24" y2="457.5" stroke="#151515" stroke-width="1.35" />
<line x1="426.24" y1="458.0" x2="426.24" y2="465.5" stroke="#151515" stroke-width="1.35" />
<line x1="423.24" y1="458.0" x2="429.24" y2="458.0" stroke="#151515" stroke-width="1.35" />
<line x1="423.24" y1="465.5" x2="429.24" y2="465.5" stroke="#151515" stroke-width="1.35" />
<line x1="456.08" y1="409.8" x2="456.08" y2="432.9" stroke="#151515" stroke-width="1.35" />
<line x1="453.08" y1="409.8" x2="459.08" y2="409.8" stroke="#151515" stroke-width="1.35" />
<line x1="453.08" y1="432.9" x2="459.08" y2="432.9" stroke="#151515" stroke-width="1.35" />
<line x1="456.08" y1="437.5" x2="456.08" y2="453.3" stroke="#151515" stroke-width="1.35" />
<line x1="453.08" y1="437.5" x2="459.08" y2="437.5" stroke="#151515" stroke-width="1.35" />
<line x1="453.08" y1="453.3" x2="459.08" y2="453.3" stroke="#151515" stroke-width="1.35" />
<polyline points="351.64,480.6 374.02,477.8 403.86,466.0 426.24,452.6 456.08,416.6" fill="none" stroke="#c4c4c4" stroke-width="1.3" stroke-linejoin="round"/>
<circle cx="351.64" cy="480.6" r="2.3" fill="#c8c8c8"/>
<circle cx="374.02" cy="477.8" r="2.3" fill="#c8c8c8"/>
<circle cx="403.86" cy="466.0" r="2.3" fill="#c8c8c8"/>
<circle cx="426.24" cy="452.6" r="2.3" fill="#c8c8c8"/>
<circle cx="456.08" cy="416.6" r="2.3" fill="#c8c8c8"/>
<polyline points="351.64,480.6 374.02,477.8 403.86,467.5 426.24,455.4 456.08,424.2" fill="none" stroke="#b4d49a" stroke-width="1.6" stroke-linejoin="round"/>
<rect x="349.24" y="478.20000000000005" width="4.8" height="4.8" fill="#b4d49a"/>
<rect x="371.62" y="475.40000000000003" width="4.8" height="4.8" fill="#b4d49a"/>
<rect x="401.46000000000004" y="465.1" width="4.8" height="4.8" fill="#b4d49a"/>
<rect x="423.84000000000003" y="453.0" width="4.8" height="4.8" fill="#b4d49a"/>
<rect x="453.68" y="421.8" width="4.8" height="4.8" fill="#b4d49a"/>
<polyline points="351.64,480.8 374.02,478.2 403.86,471.0 426.24,462.0 456.08,446.2" fill="none" stroke="#5c9448" stroke-width="1.8" stroke-linejoin="round"/>
<polygon points="351.64,477.56 354.53999999999996,482.96000000000004 348.74,482.96000000000004" fill="#5c9448"/>
<polygon points="374.02,474.96 376.91999999999996,480.36 371.12,480.36" fill="#5c9448"/>
<polygon points="403.86,467.76 406.76,473.16 400.96000000000004,473.16" fill="#5c9448"/>
<polygon points="426.24,458.76 429.14,464.16 423.34000000000003,464.16" fill="#5c9448"/>
<polygon points="456.08,442.96 458.97999999999996,448.36 453.18,448.36" fill="#5c9448"/>
<line x1="469.4" y1="421.3" x2="469.4" y2="443.3" stroke="#151515" stroke-width="1.35" />
<line x1="466.09999999999997" y1="421.3" x2="472.7" y2="421.3" stroke="#151515" stroke-width="1.35" />
<line x1="466.09999999999997" y1="443.3" x2="472.7" y2="443.3" stroke="#151515" stroke-width="1.35" />
<text x="472.94675" y="436.41" font-size="8.5" font-weight="bold" fill="#111">*</text>
<line x1="327.3" y1="391.4" x2="344.8" y2="391.4" stroke="#b4b4b4" stroke-width="1.2"/>
<circle cx="336.05" cy="391.4" r="2.3" fill="#c8c8c8"/>
<text x="346.9" y="394.0" font-size="7.4" text-anchor="start" font-weight="normal" fill="#2a2a2a" stroke="#2a2a2a" stroke-width="0.12" textLength="51.0" lengthAdjust="spacingAndGlyphs" >mIgG2a control</text>
<line x1="327.3" y1="401.9" x2="344.8" y2="401.9" stroke="#5c9448" stroke-width="1.6"/>
<polygon points="336.05,398.65999999999997 338.95,404.06 333.15000000000003,404.06" fill="#5c9448"/>
<text x="346.9" y="404.5" font-size="7.4" text-anchor="start" font-weight="normal" fill="#2a2a2a" stroke="#2a2a2a" stroke-width="0.12" textLength="52.6" lengthAdjust="spacingAndGlyphs" >Elotuzumab-g2a</text>
<line x1="327.3" y1="412.7" x2="344.8" y2="412.7" stroke="#b4d49a" stroke-width="1.6"/>
<polygon points="336.05,415.292 338.37,410.972 333.73,410.972" fill="#b4d49a"/>
<text x="346.9" y="415.3" font-size="7.4" text-anchor="start" font-weight="normal" fill="#2a2a2a" stroke="#2a2a2a" stroke-width="0.12" textLength="83.1" lengthAdjust="spacingAndGlyphs" >Elotuzumab–mg1-D265A</text>
</svg>
</body></html>
